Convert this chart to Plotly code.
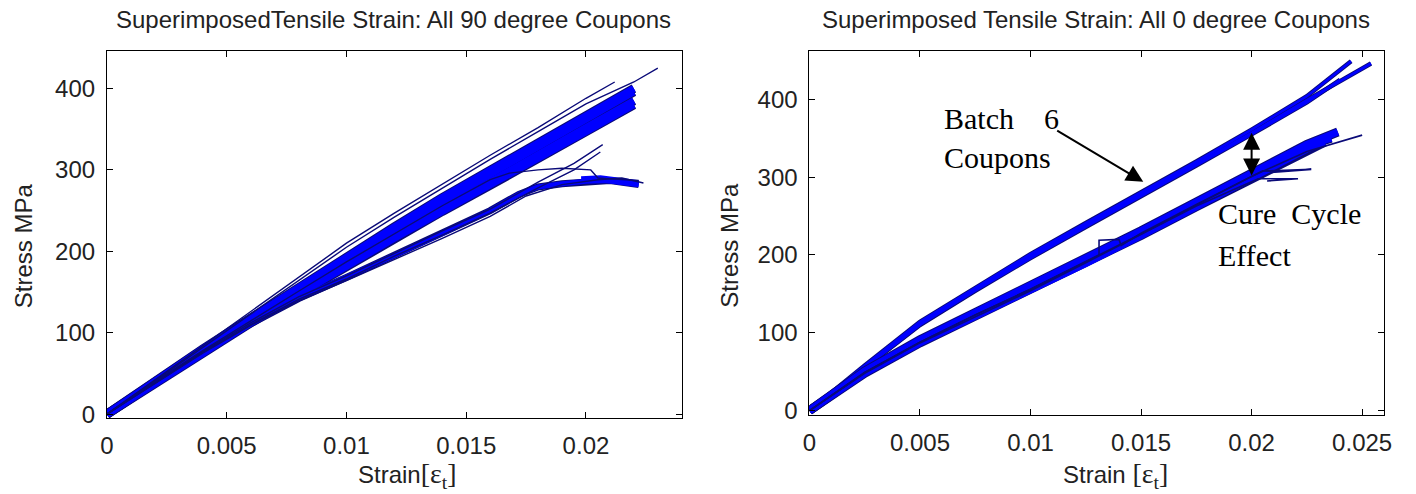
import plotly.graph_objects as go

# ---------------- 90 degree coupons (left panel) ----------------
strain_90 = [0, 0.002, 0.004, 0.006, 0.008, 0.010, 0.012, 0.014, 0.016, 0.018, 0.020, 0.022]

# main family of curves (dense band)
band90_a = [0, 40, 79, 116, 153, 190, 226, 261, 295, 329, 363, 396]
band90_b = [0, 39, 77, 113, 149, 184, 219, 252, 286, 319, 352, 385]
band90_c = [0, 41, 80, 118, 156, 194, 230, 266, 300, 334, 368, 400]
band90_d = [0, 38, 76, 112, 147, 182, 216, 249, 281, 314, 347, 380]

# upper outliers
top90_1_strain = [0, 0.002, 0.004, 0.006, 0.008, 0.010, 0.012, 0.014, 0.016, 0.018, 0.020, 0.0212]
top90_1_stress = [0, 42, 84, 126, 168, 210, 247, 283, 318, 352, 388, 408]
top90_2_strain = [0, 0.002, 0.004, 0.006, 0.008, 0.010, 0.012, 0.014, 0.016, 0.018, 0.020, 0.022, 0.0230]
top90_2_stress = [0, 41, 82, 123, 164, 205, 242, 278, 313, 347, 381, 408, 425]

# lower branch
low90_1_strain = [0, 0.002, 0.004, 0.006, 0.008, 0.010, 0.012, 0.014, 0.016, 0.018, 0.0195, 0.0207]
low90_1_stress = [0, 39, 77, 112, 144, 170, 198, 225, 252, 285, 308, 331]
low90_2_strain = [0, 0.002, 0.004, 0.006, 0.008, 0.010, 0.012, 0.014, 0.016, 0.018, 0.0195, 0.0206]
low90_2_stress = [0, 38, 76, 110, 141, 166, 194, 220, 247, 278, 300, 322]
low90_3_strain = [0, 0.002, 0.004, 0.006, 0.008, 0.010, 0.012, 0.014, 0.016, 0.0175, 0.019, 0.0205, 0.0215, 0.0224]
low90_3_stress = [0, 38, 75, 109, 139, 164, 190, 216, 243, 268, 282, 288, 290, 284]
low90_4_strain = [0, 0.002, 0.004, 0.006, 0.008, 0.010, 0.012, 0.014, 0.016, 0.0172, 0.018, 0.019, 0.020, 0.021, 0.0222]
low90_4_stress = [0, 39, 76, 111, 142, 168, 195, 222, 250, 270, 279, 283, 286, 287, 282]
low90_5_strain = [0, 0.002, 0.004, 0.006, 0.008, 0.010, 0.012, 0.014, 0.016, 0.0168, 0.018, 0.019, 0.0202, 0.0205, 0.021, 0.0222]
low90_5_stress = [0, 40, 78, 115, 151, 187, 222, 256, 288, 296, 300, 302, 300, 290, 289, 287]
fail90_strain = [0.0198, 0.0206, 0.0214, 0.0222]
fail90_stress = [288, 289, 286, 283]

# ---------------- 0 degree coupons (right panel) ----------------
strain_0 = [0, 0.0025, 0.005, 0.0075, 0.010, 0.0125, 0.015, 0.0175, 0.020, 0.0225]

# Batch 6 coupons (upper band)
up0_1_strain = strain_0 + [0.0245]
up0_1_stress = [0, 58, 114, 158, 201, 241, 280, 320, 361, 404, 449]
up0_2_strain = strain_0 + [0.0254]
up0_2_stress = [0, 56, 111, 155, 198, 238, 277, 317, 357, 399, 446]
up0_3_strain = strain_0 + [0.0240]
up0_3_stress = [0, 55, 110, 154, 196, 236, 275, 315, 355, 396, 425]

# remaining coupons (lower band)
lo0_1_strain = strain_0 + [0.0236]
lo0_1_stress = [0, 50, 89, 124, 157, 193, 229, 266, 303, 340, 350]
lo0_2_strain = strain_0 + [0.0233]
lo0_2_stress = [0, 48, 87, 121, 154, 189, 225, 262, 299, 336, 345]
lo0_3_strain = strain_0 + [0.0239]
lo0_3_stress = [0, 51, 91, 126, 159, 195, 231, 268, 305, 342, 358]
lo0_4_strain = strain_0 + [0.0239, 0.0250]
lo0_4_stress = [0, 49, 88, 123, 156, 191, 227, 264, 301, 333, 345, 354]
lo0_5_strain = [0, 0.0025, 0.005, 0.0075, 0.010, 0.0125, 0.0131, 0.0131, 0.0140, 0.0141, 0.015, 0.0175, 0.0205, 0.0227, 0.0209]
lo0_5_stress = [0, 49, 88, 123, 156, 192, 200, 219, 220, 212, 228, 265, 308, 310, 306]
lo0_6_strain = [0, 0.0025, 0.005, 0.0075, 0.010, 0.0125, 0.015, 0.0175, 0.0203, 0.0221, 0.0207]
lo0_6_stress = [0, 48, 87, 121, 154, 190, 226, 263, 298, 298, 295]

x_ticks_90 = [0, 0.005, 0.01, 0.015, 0.02]
x_ticks_0 = [0, 0.005, 0.01, 0.015, 0.02, 0.025]
y_ticks = [0, 100, 200, 300, 400]

BLUE = "#0000ff"
NAVY = "#0a0a78"
W, H = 1416, 494


def px(x):
    return x / W


def py(y):
    return 1 - y / H


fig = go.Figure()


def add(xs, ys, axis, width, color):
    xa, ya = ("x", "y") if axis == 1 else ("x2", "y2")
    fig.add_trace(go.Scatter(x=xs, y=ys, mode="lines", xaxis=xa, yaxis=ya,
                             line=dict(color=color, width=width),
                             hoverinfo="skip", showlegend=False))


# left panel: dark outline under the dense blue band
for ys in (band90_a, band90_b, band90_c, band90_d):
    add(strain_90, ys, 1, 9, NAVY)
add(low90_4_strain, low90_4_stress, 1, 7, NAVY)
for ys in (band90_a, band90_b, band90_c, band90_d):
    add(strain_90, ys, 1, 7, BLUE)
add(low90_4_strain, low90_4_stress, 1, 5, BLUE)
add(fail90_strain, fail90_stress, 1, 7, BLUE)
for xs, ys in ((top90_1_strain, top90_1_stress), (top90_2_strain, top90_2_stress),
               (low90_1_strain, low90_1_stress), (low90_2_strain, low90_2_stress),
               (low90_3_strain, low90_3_stress), (low90_5_strain, low90_5_stress)):
    add(xs, ys, 1, 1.4, NAVY)

# right panel
for xs, ys in ((up0_1_strain, up0_1_stress), (up0_2_strain, up0_2_stress), (up0_3_strain, up0_3_stress)):
    add(xs, ys, 2, 4.5, NAVY)
for xs, ys in ((up0_1_strain, up0_1_stress), (up0_2_strain, up0_2_stress), (up0_3_strain, up0_3_stress)):
    add(xs, ys, 2, 2.6, BLUE)
for xs, ys in ((lo0_1_strain, lo0_1_stress), (lo0_2_strain, lo0_2_stress), (lo0_3_strain, lo0_3_stress)):
    add(xs, ys, 2, 9, NAVY)
for xs, ys in ((lo0_1_strain, lo0_1_stress), (lo0_2_strain, lo0_2_stress), (lo0_3_strain, lo0_3_stress)):
    add(xs, ys, 2, 7, BLUE)
for xs, ys in ((lo0_4_strain, lo0_4_stress), (lo0_5_strain, lo0_5_stress), (lo0_6_strain, lo0_6_stress)):
    add(xs, ys, 2, 1.6, NAVY)

tickfont = dict(family="Liberation Sans, Arial, sans-serif", size=24, color="#222222")
axis_common = dict(showline=True, linecolor="black", linewidth=1, mirror="ticks",
                   ticks="inside", ticklen=6, tickcolor="black", showgrid=False,
                   zeroline=False, tickfont=tickfont, ticklabelstandoff=6)

fig.update_layout(
    width=W, height=H, margin=dict(l=0, r=0, t=0, b=0),
    paper_bgcolor="white", plot_bgcolor="white",
    xaxis=dict(domain=[px(101), px(682)], range=[0, 0.024], tickvals=x_ticks_90,
               ticktext=[f"{v:g}" for v in x_ticks_90], anchor="y", **axis_common),
    yaxis=dict(domain=[py(426), py(52)], range=[-5, 446], tickvals=y_ticks, anchor="x", **axis_common),
    xaxis2=dict(domain=[px(811), px(1392)], range=[0, 0.026], tickvals=x_ticks_0,
                ticktext=[f"{v:g}" for v in x_ticks_0], anchor="y2", **axis_common),
    yaxis2=dict(domain=[py(423), py(52)], range=[-6, 462], tickvals=y_ticks, anchor="x2", **axis_common),
)

label_font = dict(family="Liberation Sans, Arial, sans-serif", size=24, color="#222222")
serif = dict(family="Liberation Serif, Times New Roman, serif", size=30, color="black")

notes = [
    dict(x=px(391), y=py(20), text="SuperimposedTensile Strain: All 90 degree Coupons", font=label_font),
    dict(x=px(1101), y=py(20), text="Superimposed Tensile Strain: All 0 degree Coupons", font=label_font),
    dict(x=px(17), y=py(250), text="Stress MPa", textangle=-90, font=label_font),
    dict(x=px(730), y=py(250), text="Stress MPa", textangle=-90, font=label_font),
    dict(x=px(405), y=py(484),
         text="Strain<span style='font-family:Liberation Serif;font-size:28px'>[ε<sub>t</sub>]</span>",
         font=label_font),
    dict(x=px(1120), y=py(484),
         text="Strain <span style='font-family:Liberation Serif;font-size:28px'>[ε<sub>t</sub>]</span>",
         font=label_font),
    dict(x=px(945), y=py(121), text="Batch\u00a0\u00a0\u00a0 6", xanchor="left", font=serif),
    dict(x=px(945), y=py(160), text="Coupons", xanchor="left", font=serif),
    dict(x=px(1222), y=py(217), text="Cure\u00a0 Cycle", xanchor="left", font=serif),
    dict(x=px(1222), y=py(260), text="Effect", xanchor="left", font=serif),
]
for n in notes:
    n.setdefault("xanchor", "center")
    fig.add_annotation(xref="paper", yref="paper", showarrow=False, yanchor="middle", **n)

# arrow pointing at the Batch 6 band
fig.add_annotation(xref="x2", yref="y2", axref="x2", ayref="y2",
                   x=0.0151, y=294, ax=0.01114, ay=361, text="",
                   showarrow=True, arrowhead=2, arrowsize=1.7, arrowwidth=2, arrowcolor="black")
# double arrow marking the gap between the two bands
fig.add_annotation(xref="x2", yref="y2", axref="x2", ayref="y2",
                   x=0.02, y=302, ax=0.02, ay=359, text="",
                   showarrow=True, arrowhead=2, startarrowhead=2, arrowside="end+start",
                   arrowsize=1.7, startarrowsize=1.7, arrowwidth=2, arrowcolor="black")

fig.write_html("out.html")
